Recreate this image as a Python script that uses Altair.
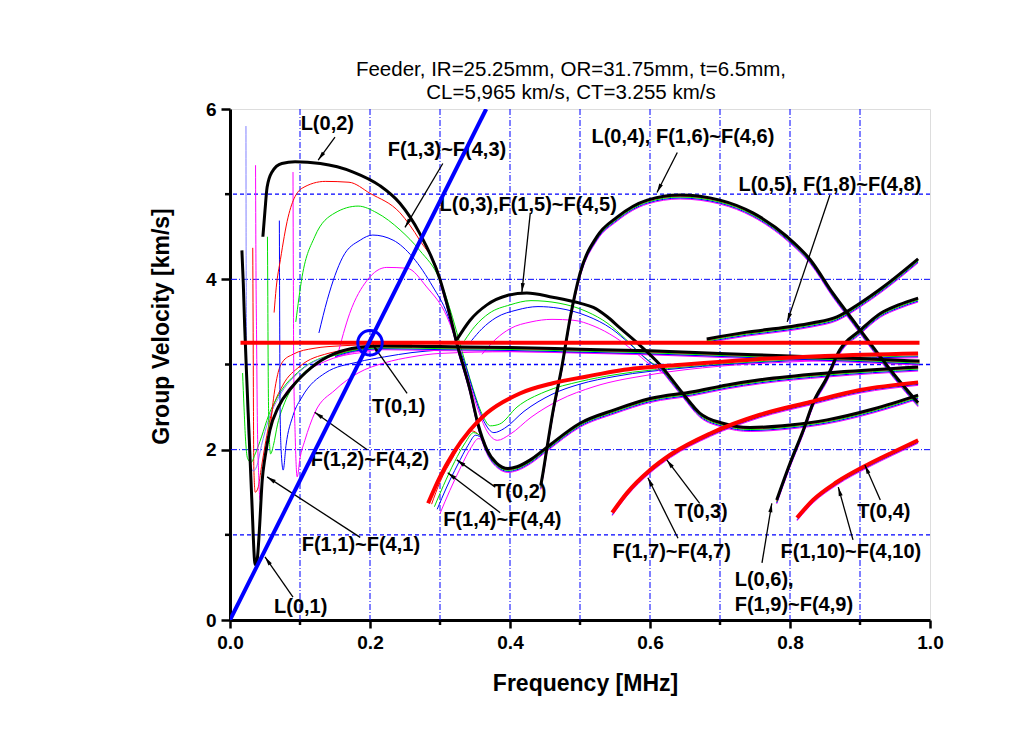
import math
import altair as alt
import pandas as pd

W, H = 700, 511
X_DOMAIN = [0.0, 1.0]
Y_DOMAIN = [0.0, 6.0]
PX_X = W / (X_DOMAIN[1] - X_DOMAIN[0])
PX_Y = H / (Y_DOMAIN[1] - Y_DOMAIN[0])

FONT = "Liberation Sans"

TITLE_LINES = ["Feeder, IR=25.25mm, OR=31.75mm, t=6.5mm,", "CL=5,965 km/s, CT=3.255 km/s"]
X_TICKS = [0.0, 0.2, 0.4, 0.6, 0.8, 1.0]
X_MINOR = [0.1, 0.3, 0.5, 0.7, 0.9]
Y_TICKS = [0, 2, 4, 6]
Y_MINOR = [1, 3, 5]
GRID_X = [0.1, 0.2, 0.3, 0.4, 0.5, 0.6, 0.7, 0.8, 0.9]
GRID_Y_DASHDOT = [2, 4]
GRID_Y_DASH = [1, 3, 5]

# ---------------- main (black) branches ----------------
L01_F = [0.017, 0.019, 0.021, 0.024, 0.027, 0.031, 0.036, 0.039, 0.042, 0.046, 0.050, 0.057, 0.069,
         0.088, 0.117, 0.150, 0.183, 0.22, 0.3, 0.4, 0.5, 0.6, 0.7, 0.8, 0.9, 0.985]
L01_V = [4.34, 3.95, 3.44, 2.82, 2.23, 1.44, 0.65, 0.72, 1.06, 1.64, 1.91, 2.23, 2.5,
         2.73, 2.97, 3.13, 3.2, 3.22, 3.21, 3.2, 3.18, 3.16, 3.13, 3.1, 3.07, 3.04]
L02_F = [0.047, 0.050, 0.053, 0.060, 0.074, 0.093, 0.129, 0.176, 0.214, 0.243, 0.271, 0.300, 0.312,
         0.324, 0.343, 0.354, 0.367, 0.381, 0.397, 0.41, 0.429, 0.453, 0.5, 0.55, 0.6, 0.661, 0.71,
         0.757, 0.853, 0.983]
L02_V = [4.5, 4.81, 5.08, 5.26, 5.36, 5.38, 5.36, 5.26, 5.1, 4.89, 4.54, 4.0, 3.65,
         3.25, 2.7, 2.31, 2.0, 1.84, 1.78, 1.8, 1.88, 2.03, 2.31, 2.47, 2.6, 2.68, 2.76,
         2.82, 2.9, 2.97]
L03_F = [0.324, 0.343, 0.367, 0.396, 0.424, 0.461, 0.5, 0.519, 0.539, 0.557, 0.581, 0.614, 0.647,
         0.671, 0.704, 0.743, 0.8, 0.853, 0.92, 0.983]
L03_V = [3.29, 3.52, 3.7, 3.81, 3.84, 3.79, 3.72, 3.67, 3.56, 3.43, 3.26, 3.0, 2.66,
         2.43, 2.31, 2.26, 2.29, 2.35, 2.48, 2.64]
L04_F = [0.444, 0.447, 0.453, 0.461, 0.474, 0.486, 0.5, 0.524, 0.553, 0.596, 0.643, 0.7, 0.747,
         0.796, 0.829, 0.861, 0.89, 0.919, 0.947, 0.983]
L04_V = [1.58, 1.72, 2.03, 2.43, 2.97, 3.55, 4.07, 4.5, 4.73, 4.93, 4.99, 4.93, 4.78,
         4.5, 4.23, 3.84, 3.52, 3.2, 2.9, 2.55]
L05_F = [0.681, 0.738, 0.796, 0.833, 0.867, 0.9, 0.933, 0.983]
L05_V = [3.3, 3.38, 3.44, 3.49, 3.56, 3.72, 3.91, 4.24]
L06_F = [0.781, 0.8, 0.819, 0.833, 0.853, 0.871, 0.9, 0.929, 0.955, 0.983]
L06_V = [1.41, 1.84, 2.23, 2.55, 2.85, 3.17, 3.4, 3.6, 3.7, 3.78]

# ---------------- torsional (red) branches ----------------
T01_F = [0.015, 0.985]
T01_V = [3.255, 3.255]
T02_F = [0.283, 0.3, 0.319, 0.343, 0.367, 0.414, 0.461, 0.51, 0.557, 0.65, 0.75, 0.85, 0.983]
T02_V = [1.37, 1.68, 1.96, 2.23, 2.43, 2.66, 2.78, 2.86, 2.93, 3.0, 3.06, 3.1, 3.13]
T03_F = [0.546, 0.567, 0.6, 0.629, 0.686, 0.757, 0.829, 0.9, 0.983]
T03_V = [1.26, 1.49, 1.76, 1.94, 2.19, 2.41, 2.56, 2.7, 2.79]
T04_F = [0.81, 0.833, 0.867, 0.91, 0.947, 0.983]
T04_V = [1.2, 1.41, 1.62, 1.82, 1.97, 2.11]

# ---------------- flexural families (thin colored) ----------------
F11_F = [0.0325, 0.033, 0.0335, 0.034, 0.036, 0.04, 0.045, 0.05, 0.06, 0.075, 0.1, 0.14, 0.2]
F11_V = [4.37, 3.5, 2.5, 1.8, 1.5, 1.55, 1.8, 2.05, 2.45, 2.75, 2.98, 3.13, 3.2]
F21_F = [0.018, 0.02, 0.022, 0.025, 0.03, 0.036, 0.045, 0.055, 0.07, 0.1, 0.15, 0.2]
F21_V = [2.9, 2.5, 2.15, 1.9, 1.85, 1.95, 2.15, 2.4, 2.65, 2.93, 3.13, 3.2]
F31_F = [0.0228, 0.023, 0.0235, 0.024, 0.026, 0.029, 0.033, 0.038, 0.045, 0.055, 0.07, 0.1, 0.15, 0.2]
F31_V = [5.8, 4.5, 3.5, 2.8, 2.2, 1.85, 1.75, 1.8, 2.05, 2.35, 2.62, 2.92, 3.12, 3.19]
F41_F = [0.0365, 0.037, 0.038, 0.039, 0.041, 0.043, 0.046, 0.05, 0.06, 0.075, 0.1, 0.14, 0.2]
F41_V = [5.34, 4.3, 3.3, 2.4, 1.7, 1.41, 1.6, 1.9, 2.3, 2.6, 2.85, 3.05, 3.15]

F12_F = [0.057, 0.06, 0.063, 0.068, 0.075, 0.09, 0.12, 0.16, 0.2, 0.26]
F12_V = [2.2, 2.45, 2.65, 2.88, 3.03, 3.12, 3.19, 3.22, 3.23, 3.23]
F22_F = [0.0535, 0.054, 0.0545, 0.0555, 0.058, 0.062, 0.068, 0.078, 0.095, 0.12, 0.16, 0.2, 0.26]
F22_V = [4.5, 3.8, 3.0, 2.3, 1.95, 2.05, 2.3, 2.55, 2.8, 3.0, 3.13, 3.18, 3.2]
F32_F = [0.0705, 0.071, 0.0715, 0.073, 0.076, 0.08, 0.09, 0.103, 0.136, 0.183, 0.221, 0.26, 0.3]
F32_V = [4.69, 3.5, 2.5, 2.0, 1.76, 2.05, 2.4, 2.62, 2.9, 3.03, 3.09, 3.14, 3.17]
F42_F = [0.09, 0.0905, 0.091, 0.093, 0.096, 0.1, 0.107, 0.121, 0.15, 0.183, 0.221, 0.26, 0.3, 0.4,
         0.5, 0.6, 0.7, 0.8, 0.9, 0.983]
F42_V = [5.26, 4.0, 3.0, 2.2, 1.68, 1.9, 2.11, 2.43, 2.7, 2.9, 3.02, 3.09, 3.13, 3.15,
         3.14, 3.12, 3.1, 3.07, 3.04, 3.0]

F13_F = [0.063, 0.066, 0.072, 0.083, 0.103, 0.136, 0.17, 0.2, 0.243, 0.271, 0.3, 0.312]
F13_V = [3.61, 3.9, 4.23, 4.73, 5.07, 5.15, 5.14, 5.01, 4.78, 4.46, 4.02, 3.62]
F23_F = [0.094, 0.103, 0.121, 0.15, 0.183, 0.21, 0.243, 0.271, 0.3, 0.318, 0.33, 0.347, 0.36, 0.372,
         0.385, 0.41, 0.45, 0.5, 0.55, 0.65, 0.75, 0.85, 0.983]
F23_V = [3.5, 4.03, 4.5, 4.78, 4.86, 4.78, 4.58, 4.34, 3.99, 3.55, 3.2, 2.72, 2.42, 2.28,
         2.3, 2.5, 2.68, 2.8, 2.88, 2.97, 3.03, 3.07, 3.1]
F33_F = [0.127, 0.139, 0.161, 0.186, 0.204, 0.233, 0.261, 0.29, 0.31, 0.322, 0.334, 0.35, 0.363,
         0.377, 0.392, 0.42, 0.46, 0.5, 0.55, 0.65, 0.75, 0.85, 0.983]
F33_V = [3.37, 3.76, 4.26, 4.46, 4.52, 4.46, 4.26, 3.91, 3.6, 3.3, 3.05, 2.62, 2.33,
         2.2, 2.25, 2.45, 2.65, 2.77, 2.86, 2.96, 3.02, 3.06, 3.09]
F43_F = [0.153, 0.171, 0.196, 0.224, 0.253, 0.281, 0.31, 0.326, 0.338, 0.353, 0.367, 0.382, 0.4,
         0.43, 0.47, 0.52, 0.6, 0.7, 0.8, 0.9, 0.983]
F43_V = [3.09, 3.6, 3.99, 4.14, 4.13, 3.91, 3.56, 3.2, 2.9, 2.5, 2.22, 2.11, 2.18,
         2.38, 2.58, 2.74, 2.88, 2.98, 3.03, 3.06, 3.08]

F14_F = [0.288, 0.3, 0.318, 0.334, 0.346, 0.356]
F14_V = [1.36, 1.62, 1.9, 2.12, 2.22, 2.17]
F24_F = [0.292, 0.305, 0.321, 0.336, 0.348, 0.36]
F24_V = [1.33, 1.58, 1.86, 2.08, 2.2, 2.15]
F34_F = [0.296, 0.309, 0.325, 0.34, 0.351, 0.362]
F34_V = [1.3, 1.55, 1.82, 2.05, 2.17, 2.12]
F44_F = [0.3, 0.314, 0.33, 0.344, 0.355, 0.365]
F44_V = [1.25, 1.52, 1.8, 2.02, 2.13, 2.08]

F25_F = [0.335, 0.35, 0.37, 0.4, 0.43, 0.47, 0.51, 0.54, 0.565, 0.59, 0.615]
F25_V = [3.28, 3.45, 3.6, 3.7, 3.75, 3.72, 3.62, 3.48, 3.3, 3.1, 2.95]
F35_F = [0.345, 0.36, 0.38, 0.41, 0.44, 0.47, 0.51, 0.545, 0.57, 0.595, 0.618]
F35_V = [3.28, 3.42, 3.55, 3.64, 3.68, 3.66, 3.57, 3.42, 3.25, 3.06, 2.92]
F45_F = [0.36, 0.38, 0.4, 0.43, 0.46, 0.49, 0.52, 0.55, 0.575, 0.6, 0.622]
F45_V = [3.12, 3.3, 3.42, 3.5, 3.53, 3.52, 3.45, 3.32, 3.17, 3.0, 2.88]

# straight line through origin and its marked crossing with T(0,1)
LINE_F = [0.0, 0.366]
LINE_V = [0.0, 6.0]
CIRCLE_F = [0.2]
CIRCLE_V = [3.255]

# ---------------- annotations ----------------
LABEL_TEXT = ["L(0,2)", "F(1,3)~F(4,3)", "L(0,3),F(1,5)~F(4,5)", "L(0,4), F(1,6)~F(4,6)",
              "L(0,5), F(1,8)~F(4,8)", "T(0,1)", "F(1,2)~F(4,2)", "F(1,1)~F(4,1)", "L(0,1)",
              "T(0,2)", "F(1,4)~F(4,4)", "T(0,3)", "F(1,7)~F(4,7)", "F(1,10)~F(4,10)", "T(0,4)"]
LABEL_F = [0.139, 0.31, 0.426, 0.647, 0.857, 0.241, 0.2, 0.187, 0.101,
           0.414, 0.389, 0.673, 0.631, 0.887, 0.934]
LABEL_V = [5.82, 5.52, 4.87, 5.67, 5.11, 2.5, 1.88, 0.88, 0.15,
           1.5, 1.17, 1.27, 0.8, 0.8, 1.27]
LEFT_TEXT = ["L(0,6),", "F(1,9)~F(4,9)"]
LEFT_F = [0.721, 0.721]
LEFT_V = [0.47, 0.18]

ARROW_F1 = [0.15, 0.304, 0.429, 0.639, 0.857, 0.253, 0.196, 0.186, 0.09, 0.379, 0.386, 0.671, 0.64, 0.76, 0.89, 0.929]
ARROW_V1 = [5.67, 5.36, 4.78, 5.49, 4.99, 2.66, 2.0, 0.97, 0.27, 1.56, 1.26, 1.37, 0.96, 0.67, 0.94, 1.41]
ARROW_F2 = [0.126, 0.25, 0.417, 0.61, 0.796, 0.204, 0.121, 0.053, 0.05, 0.324, 0.311, 0.624, 0.597, 0.774, 0.869, 0.907]
ARROW_V2 = [5.4, 4.61, 3.85, 5.02, 3.5, 3.23, 2.44, 1.68, 0.74, 1.88, 1.73, 1.88, 1.67, 1.37, 1.56, 1.82]

RED, GREEN, BLUE, MAGENTA = "#ff0000", "#00e000", "#0000ff", "#ff00ff"


def curve(name, fs, vs, col=None):
    d = pd.DataFrame({"f": fs, "v": vs})
    d["name"] = name
    d["i"] = range(len(d))
    if col is not None:
        d["col"] = col
    return d


X_AXIS = alt.Axis(values=X_TICKS, format=".1f", title="Frequency [MHz]", grid=False,
                  tickSize=8, tickWidth=2.5, tickColor="black", domainColor="black", domainWidth=3,
                  labelFont=FONT, labelFontSize=19, labelFontWeight="bold", labelColor="black",
                  labelPadding=5, labelFlush=False, labelOverlap=False,
                  titleFont=FONT, titleFontSize=23, titleFontWeight="bold", titleColor="black",
                  titlePadding=20, titleX=355)
Y_AXIS = alt.Axis(values=Y_TICKS, format="d", title="Group Velocity [km/s]", grid=False,
                  tickSize=9, tickWidth=2.5, tickColor="black", domainColor="black", domainWidth=3,
                  labelFont=FONT, labelFontSize=19, labelFontWeight="bold", labelColor="black",
                  labelPadding=5, labelFlush=False, labelOverlap=False,
                  titleFont=FONT, titleFontSize=23, titleFontWeight="bold", titleColor="black",
                  titlePadding=32, titleY=217)


def xenc(field="f"):
    return alt.X(f"{field}:Q", scale=alt.Scale(domain=X_DOMAIN, nice=False, zero=False), axis=X_AXIS)


def yenc(field="v"):
    return alt.Y(f"{field}:Q", scale=alt.Scale(domain=Y_DOMAIN, nice=False, zero=False), axis=Y_AXIS)


# grid
grid_v = alt.Chart(pd.DataFrame({"f": GRID_X})).mark_rule(
    color=BLUE, strokeWidth=1, strokeDash=[6, 2, 1, 2]).encode(x=xenc())
grid_h1 = alt.Chart(pd.DataFrame({"v": GRID_Y_DASHDOT})).mark_rule(
    color=BLUE, strokeWidth=1, strokeDash=[6, 2, 1, 2]).encode(y=yenc())
grid_h2 = alt.Chart(pd.DataFrame({"v": GRID_Y_DASH})).mark_rule(
    color=BLUE, strokeWidth=1.3, strokeDash=[4, 3]).encode(y=yenc())
minor_x = alt.Chart(pd.DataFrame({"f": X_MINOR})).mark_rule(color="black", strokeWidth=2.5).encode(
    x=xenc(), y=alt.value(H), y2=alt.value(H + 5))
minor_y = alt.Chart(pd.DataFrame({"v": Y_MINOR})).mark_rule(color="black", strokeWidth=2.5).encode(
    y=yenc(), x=alt.value(0), x2=alt.value(-5))

# thin colored branches
thin = pd.concat([
    curve("F11", F11_F, F11_V, RED), curve("F21", F21_F, F21_V, GREEN),
    curve("F31", F31_F, F31_V, "#8080ff"), curve("F41", F41_F, F41_V, MAGENTA),
    curve("F12", F12_F, F12_V, RED), curve("F22", F22_F, F22_V, GREEN),
    curve("F32", F32_F, F32_V, BLUE), curve("F42", F42_F, F42_V, MAGENTA),
    curve("F13", F13_F, F13_V, RED), curve("F23", F23_F, F23_V, GREEN),
    curve("F33", F33_F, F33_V, BLUE), curve("F43", F43_F, F43_V, MAGENTA),
    curve("F14", F14_F, F14_V, RED), curve("F24", F24_F, F24_V, GREEN),
    curve("F34", F34_F, F34_V, BLUE), curve("F44", F44_F, F44_V, MAGENTA),
    curve("F25", F25_F, F25_V, GREEN), curve("F35", F35_F, F35_V, BLUE),
    curve("F45", F45_F, F45_V, MAGENTA),
])
thin_layer = alt.Chart(thin).mark_line(strokeWidth=1, clip=True, interpolate="monotone").encode(
    x=xenc(), y=yenc(), detail="name:N", order="i:Q", color=alt.Color("col:N", scale=None))

# black main branches
black = pd.concat([
    curve("L01", L01_F, L01_V), curve("L02", L02_F, L02_V), curve("L03", L03_F, L03_V),
    curve("L04", L04_F, L04_V), curve("L05", L05_F, L05_V), curve("L06", L06_F, L06_V),
])
# colored companions that run right along the main branches (drawn as offset copies)
SHADOW_FROM = {"L01": 0.15, "L02": 0.30, "L03": 0.60, "L04": 0.0, "L05": 0.0, "L06": 0.0}
shadow_src = black[black.apply(lambda r: r["f"] >= SHADOW_FROM[r["name"]], axis=1)]
shadow_layers = []
for col, off in [(MAGENTA, 4), (BLUE, 3), (GREEN, 2), (RED, 1)]:
    shadow_layers.append(alt.Chart(shadow_src).mark_line(
        color=col, strokeWidth=1, yOffset=off, clip=True, interpolate="monotone").encode(
        x=xenc(), y=yenc(), detail="name:N", order="i:Q"))

tors_src = pd.concat([curve("T03", T03_F, T03_V), curve("T04", T04_F, T04_V)])
for col, off in [(MAGENTA, 3), (BLUE, 2)]:
    shadow_layers.append(alt.Chart(tors_src).mark_line(
        color=col, strokeWidth=1, yOffset=off, clip=True, interpolate="monotone").encode(
        x=xenc(), y=yenc(), detail="name:N", order="i:Q"))

black_layer = alt.Chart(black).mark_line(color="black", strokeWidth=3, clip=True,
                                         interpolate="monotone").encode(
    x=xenc(), y=yenc(), detail="name:N", order="i:Q")

red = pd.concat([curve("T02", T02_F, T02_V), curve("T03", T03_F, T03_V),
                 curve("T04", T04_F, T04_V), curve("T01", T01_F, T01_V)])
red_layer = alt.Chart(red).mark_line(color=RED, strokeWidth=4, clip=True, interpolate="monotone").encode(
    x=xenc(), y=yenc(), detail="name:N", order="i:Q")

# annotation text
lab = pd.DataFrame({"f": LABEL_F, "v": LABEL_V, "t": LABEL_TEXT})
text_c = alt.Chart(lab).mark_text(font=FONT, fontSize=20, fontWeight="bold", color="black",
                                  align="center", baseline="middle").encode(x=xenc(), y=yenc(), text="t:N")
labl = pd.DataFrame({"f": LEFT_F, "v": LEFT_V, "t": LEFT_TEXT})
text_l = alt.Chart(labl).mark_text(font=FONT, fontSize=20, fontWeight="bold", color="black",
                                   align="left", baseline="middle").encode(x=xenc(), y=yenc(), text="t:N")

# arrows
arr = pd.DataFrame({"f": ARROW_F1, "v": ARROW_V1, "f2": ARROW_F2, "v2": ARROW_V2})
arr["ang"] = [(math.degrees(math.atan2((b - a) * PX_X, (d - c) * PX_Y)) + 360.0) % 360.0
              for a, b, c, d in zip(arr["f"], arr["f2"], arr["v"], arr["v2"])]
arrow_lines = alt.Chart(arr).mark_rule(color="black", strokeWidth=1.3).encode(
    x=xenc(), y=yenc(), x2="f2:Q", y2="v2:Q")
arrow_heads = alt.Chart(arr).mark_point(shape="M0,0L0.45,2L-0.45,2Z", filled=True, color="black",
                                        size=81, opacity=1, strokeWidth=0).encode(
    x=xenc("f2"), y=yenc("v2"), angle=alt.Angle("ang:Q", scale=None))

# blue line and circle
blue_line = alt.Chart(curve("line", LINE_F, LINE_V)).mark_line(color=BLUE, strokeWidth=4, clip=True).encode(
    x=xenc(), y=yenc(), order="i:Q")
circle = alt.Chart(pd.DataFrame({"f": CIRCLE_F, "v": CIRCLE_V})).mark_point(
    shape="circle", filled=False, color=BLUE, size=600, strokeWidth=3, opacity=1).encode(x=xenc(), y=yenc())

chart = alt.layer(
    grid_v, grid_h1, grid_h2, minor_x, minor_y,
    thin_layer, *shadow_layers, black_layer, red_layer,
    text_c, text_l, arrow_lines, arrow_heads, blue_line, circle,
).properties(
    width=W, height=H,
    title=alt.TitleParams(text=TITLE_LINES, font=FONT, fontSize=20.5, fontWeight="normal", color="black",
                          anchor="middle", dx=-9, offset=-3, lineHeight=23),
    autosize=alt.AutoSizeParams(type="none"),
    padding={"left": 222, "top": 101, "right": 60, "bottom": 100},
).configure_view(stroke="black", strokeWidth=3).configure(background="white")

chart.save("out.html", embed_options={"renderer": "svg", "actions": False})
